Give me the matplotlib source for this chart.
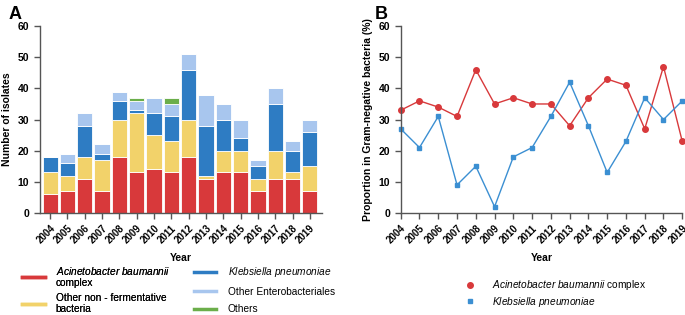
import matplotlib
matplotlib.use("Agg")
import matplotlib.pyplot as plt
from matplotlib.lines import Line2D
import numpy as np

plt.rcParams['font.family'] = ['Liberation Sans', 'DejaVu Sans']
plt.rcParams['mathtext.fontset'] = 'custom'
plt.rcParams['mathtext.it'] = 'Liberation Sans:italic'
plt.rcParams['mathtext.rm'] = 'Liberation Sans'

years = [str(y) for y in range(2004, 2020)]

# panel A: isolates per group
acineto = [6, 7, 11, 7, 18, 13, 14, 13, 18, 11, 13, 13, 7, 11, 11, 7]
other_nonferm = [7, 5, 7, 10, 12, 19, 11, 10, 12, 1, 7, 7, 4, 9, 2, 8]
klebsiella = [5, 4, 10, 2, 6, 1, 7, 8, 16, 16, 10, 4, 4, 15, 7, 11]
other_entero = [0, 3, 4, 3, 3, 3, 5, 4, 5, 10, 5, 6, 2, 5, 3, 4]
others = [0, 0, 0, 0, 0, 1, 0, 2, 0, 0, 0, 0, 0, 0, 0, 0]

# panel B: proportion (%)
prop_acineto = [33, 36, 34, 31, 46, 35, 37, 35, 35, 28, 37, 43, 41, 27, 47, 23]
prop_kleb = [27, 21, 31, 9, 15, 2, 18, 21, 31, 42, 28, 13, 23, 37, 30, 36]

c_red = '#d8393b'
c_yellow = '#f2d26a'
c_blue = '#2e7cc3'
c_light = '#a8c6ee'
c_green = '#6bae4a'
c_line_blue = '#3b8fd2'
spine_c = '#555555'

fig = plt.figure(figsize=(6.85, 3.15), dpi=100)
axA = fig.add_axes([0.058, 0.324, 0.412, 0.593])
axB = fig.add_axes([0.585, 0.324, 0.411, 0.593])

x = np.arange(len(years))
bottom = np.zeros(len(years))
for vals, col in [(acineto, c_red), (other_nonferm, c_yellow), (klebsiella, c_blue),
                  (other_entero, c_light), (others, c_green)]:
    axA.bar(x, vals, bottom=bottom, width=0.88, color=col, edgecolor='white', linewidth=0.6)
    bottom += np.array(vals)

axA.set_xlim(-0.6, 15.7)
axA.set_xticks(x)
axA.set_xticklabels(years)

xb = np.arange(2004, 2020)
axB.plot(xb, prop_acineto, color=c_red, marker='o', markersize=4, linewidth=1, clip_on=False)
axB.plot(xb, prop_kleb, color=c_line_blue, marker='s', markersize=3.5, linewidth=1, clip_on=False)
axB.set_xlim(2004, 2019)
axB.set_xticks(xb)
axB.set_xticklabels(years)

for ax in (axA, axB):
    ax.set_ylim(0, 60)
    ax.set_yticks(range(0, 61, 10))
    for s in ('top', 'right'):
        ax.spines[s].set_visible(False)
    for s in ('left', 'bottom'):
        ax.spines[s].set_color(spine_c)
        ax.spines[s].set_linewidth(1)
    ax.tick_params(colors=spine_c, length=4, width=1, labelcolor='black')
    for lab in ax.get_xticklabels():
        lab.set_rotation(45)
        lab.set_ha('right')
        lab.set_rotation_mode('anchor')
        lab.set_fontsize(7)
        lab.set_fontweight('bold')
    for lab in ax.get_yticklabels():
        lab.set_fontsize(7.5)
        lab.set_fontweight('bold')
    ax.set_xlabel('Year', fontsize=7.5, fontweight='bold', labelpad=5)

axA.set_ylabel('Number of isolates', fontsize=7.5, fontweight='bold')
axB.set_ylabel('Proportion in Gram-negative bacteria (%)', fontsize=7.5, fontweight='bold')

fig.text(0.012, 0.955, 'A', fontsize=13, fontweight='bold', va='center')
fig.text(0.547, 0.955, 'B', fontsize=13, fontweight='bold', va='center')

# legend A, left column
legL = fig.legend([Line2D([], [], color=c_red, lw=2.5), Line2D([], [], color=c_yellow, lw=2.5)],
                  [r'$\it{Acinetobacter\ baumannii}$' + '\ncomplex', 'Other non - fermentative\nbacteria'],
                  loc='upper left', bbox_to_anchor=(0.025, 0.174), frameon=False,
                  fontsize=7.3, handlelength=2.2, labelspacing=0.45,
                  borderpad=0, handletextpad=1.1)
for t in legL.get_texts():
    t.set_linespacing(1.15)
fig.add_artist(legL)

# legend A, right column
fig.legend([Line2D([], [], color=c_blue, lw=2.5), Line2D([], [], color=c_light, lw=2.5),
            Line2D([], [], color=c_green, lw=2.5)],
           [r'$\it{Klebsiella\ pneumoniae}$', 'Other Enterobacteriales', 'Others'],
           loc='upper left', bbox_to_anchor=(0.276, 0.174), frameon=False,
           fontsize=7.3, handlelength=2.2, labelspacing=0.75,
           borderpad=0, handletextpad=1.1)

# legend B
fig.legend([Line2D([], [], color=c_red, marker='o', lw=0, markersize=4),
            Line2D([], [], color=c_line_blue, marker='s', lw=0, markersize=3.5)],
           [r'$\it{Acinetobacter\ baumannii}$ complex', r'$\it{Klebsiella\ pneumoniae}$'],
           loc='upper left', bbox_to_anchor=(0.672, 0.132), frameon=False, fontsize=7.3,
           handlelength=1, labelspacing=0.2, borderpad=0, handletextpad=1.6)

fig.savefig('out.png', dpi=100)
